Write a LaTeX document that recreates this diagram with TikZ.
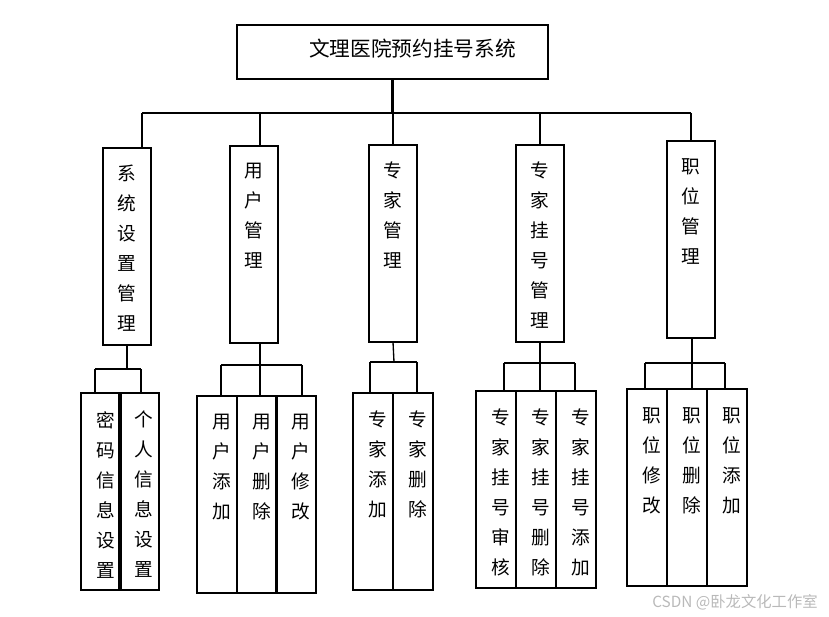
\documentclass[tikz,border=0pt]{standalone}
\usepackage{fontspec}
\newfontfamily\cjk{Noto Sans CJK SC}
\tikzset{
  mod/.style={draw, line width=2.2pt, outer sep=0pt, inner sep=0pt, anchor=north west},
  lbl/.style={anchor=north, inner sep=0pt, align=center, font=\cjk\fontsize{14pt}{22.5pt}\selectfont},
  top/.style={mod, minimum width=36pt, minimum height=147.75pt,
    label={[lbl, yshift=-12.75pt]north:#1}},
  leaf/.style={mod, minimum width=30pt, minimum height=147.75pt,
    label={[lbl, yshift=-13.5pt, xshift=3.75pt]north:#1}},
  link/.style={line width=2.2pt}
}

\begin{document}
\begin{tikzpicture}[x=0.75pt, y=-0.75pt]
  \useasboundingbox (0,0) rectangle (829,617);

  % root
  \node[mod, minimum width=233.25pt, minimum height=40.5pt,
    label={[anchor=center, inner sep=0pt, xshift=15pt, yshift=2.25pt,
      font=\cjk\fontsize{15.5pt}{18pt}\selectfont]center:文理医院预约挂号系统}] (title) at (237,25) {};

  % modules
  \node[top={系\\统\\设\\置\\管\\理}] (sys) at (103,148) {};
  \node[top={用\\户\\管\\理}] (user) at (230,146) {};
  \node[top={专\\家\\管\\理}] (exp) at (369,145) {};
  \node[top={专\\家\\挂\\号\\管\\理}] (reg) at (516,145) {};
  \node[top={职\\位\\管\\理}] (pos) at (667,141) {};

  % functions
  \node[leaf={密\\码\\信\\息\\设\\置}] (pw) at (81,393) {};
  \node[leaf={个\\人\\信\\息\\设\\置}] (pi) at (119,393) {};

  \node[leaf={用\\户\\添\\加}] (ua) at (197,396) {};
  \node[leaf={用\\户\\删\\除}] (ud) at (237,396) {};
  \node[leaf={用\\户\\修\\改}] (um) at (276,396) {};

  \node[leaf={专\\家\\添\\加}] (ea) at (353,393) {};
  \node[leaf={专\\家\\删\\除}] (ed) at (393,393) {};

  \node[leaf={专\\家\\挂\\号\\审\\核}] (ra) at (476,391) {};
  \node[leaf={专\\家\\挂\\号\\删\\除}] (rd) at (516,391) {};
  \node[leaf={专\\家\\挂\\号\\添\\加}] (rn) at (556,391) {};

  \node[leaf={职\\位\\修\\改}] (pm) at (627,389) {};
  \node[leaf={职\\位\\删\\除}] (pd) at (667,389) {};
  \node[leaf={职\\位\\添\\加}] (pa) at (707,389) {};

  % top bus
  \coordinate (b1) at (142,113);
  \coordinate (b2) at (260,113);
  \coordinate (b3) at (393,113);
  \coordinate (b4) at (540,113);
  \coordinate (b5) at (691,113);
  \draw[link] (title.south) -- (title.south |- b3);
  \draw[link] (b1) -- (b5);
  \foreach \b/\n in {b1/sys, b2/user, b3/exp, b4/reg, b5/pos}
    \draw[link] (\b) -- (\b |- \n.north);

  % lower buses
  \coordinate (s1) at (95,369);
  \coordinate (s2) at (141,369);
  \draw[link] (sys.south) -- (sys.south |- s1);
  \draw[link] (s1) -- (s2);
  \foreach \b/\n in {s1/pw, s2/pi}
    \draw[link] (\b) -- (\b |- \n.north);

  \coordinate (u1) at (221,365);
  \coordinate (u2) at (260,365);
  \coordinate (u3) at (302,365);
  \draw[link] (u2 |- user.south) -- (u2);
  \draw[link] (u1) -- (u3);
  \foreach \b/\n in {u1/ua, u2/ud, u3/um}
    \draw[link] (\b) -- (\b |- \n.north);

  \coordinate (e0) at (394,362);
  \coordinate (e1) at (370,362);
  \coordinate (e2) at (417,362);
  \draw[line width=1pt] (exp.south) -- (e0);
  \draw[link] (e1) -- (e2);
  \foreach \b/\n in {e1/ea, e2/ed}
    \draw[link] (\b) -- (\b |- \n.north);

  \coordinate (r1) at (504,363);
  \coordinate (r2) at (540,363);
  \coordinate (r3) at (575,363);
  \draw[link] (reg.south) -- (r2);
  \draw[link] (r1) -- (r3);
  \foreach \b/\n in {r1/ra, r2/rd, r3/rn}
    \draw[link] (\b) -- (\b |- \n.north);

  \coordinate (p1) at (645,363);
  \coordinate (p2) at (692,363);
  \coordinate (p3) at (725,363);
  \draw[link] (p2 |- pos.south) -- (p2);
  \draw[link] (p1) -- (p3);
  \foreach \b/\n in {p1/pm, p2/pd, p3/pa}
    \draw[link] (\b) -- (\b |- \n.north);

  % watermark
  \node[font=\cjk\fontsize{11.5pt}{12pt}\selectfont, text=gray!55, inner sep=0pt] (mark) at (735,602) {CSDN @卧龙文化工作室};
\end{tikzpicture}
\end{document}
